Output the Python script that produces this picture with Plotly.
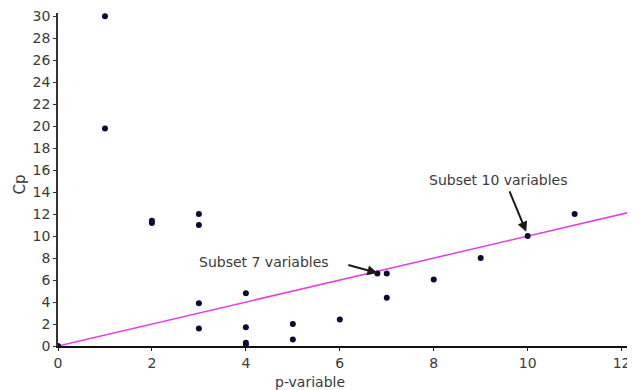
import plotly.graph_objects as go

p_values = [0, 1, 1, 2, 2, 3, 3, 3, 3, 4, 4, 4, 4, 5, 5, 6, 6.8, 7, 7, 8, 9, 10, 11]
cp_values = [0, 30, 19.8, 11.2, 11.4, 12.0, 11.0, 3.9, 1.6, 4.8, 1.7, 0.3, 0.1, 2.0, 0.6, 2.4, 6.6, 6.6, 4.4, 6.05, 8.0, 10.0, 12.0]
line_x = [0, 12.2]
line_y = [0, 12.2]
x_ticks = [0, 2, 4, 6, 8, 10, 12]
y_ticks = list(range(0, 31, 2))

font_main = "DejaVu Sans, Arial, sans-serif"
txt_color = "#3a3a3a"

fig = go.Figure()
fig.add_trace(go.Scatter(x=line_x, y=line_y, mode="lines",
                         line=dict(color="#e040e0", width=1.5), hoverinfo="skip"))
fig.add_trace(go.Scatter(x=p_values, y=cp_values, mode="markers",
                         marker=dict(color="#0a0a35", size=6)))

fig.add_annotation(x=6.8, y=6.65, ax=6.15, ay=7.4, xref="x", yref="y", axref="x", ayref="y",
                   text="", showarrow=True, arrowhead=2, arrowsize=1, arrowwidth=2,
                   arrowcolor="#1a1a1a")
fig.add_annotation(x=4.38, y=7.66, xref="x", yref="y", text="Subset 7 variables",
                   showarrow=False, font=dict(family=font_main, size=14, color=txt_color))
fig.add_annotation(x=9.97, y=10.4, ax=9.6, ay=14.2, xref="x", yref="y", axref="x", ayref="y",
                   text="", showarrow=True, arrowhead=2, arrowsize=1, arrowwidth=2,
                   arrowcolor="#1a1a1a")
fig.add_annotation(x=9.38, y=15.13, xref="x", yref="y", text="Subset 10 variables",
                   showarrow=False, font=dict(family=font_main, size=14, color=txt_color))

# axis titles
fig.add_annotation(x=0, y=0.485, xref="paper", yref="paper", xanchor="center", yanchor="middle",
                   xshift=-38, text="Cp", textangle=-90, showarrow=False,
                   font=dict(family=font_main, size=15, color=txt_color))
fig.add_annotation(x=0.44, y=0, xref="paper", yref="paper", xanchor="center", yanchor="middle",
                   yshift=-36, text="p-variable", showarrow=False,
                   font=dict(family=font_main, size=14, color=txt_color))

# the page body has an 8px default margin, so the figure is sized/offset to compensate
fig.update_layout(
    width=627, height=382,
    margin=dict(l=50, r=4, t=5, b=44),
    paper_bgcolor="white", plot_bgcolor="white",
    showlegend=False,
    font=dict(family=font_main, size=14, color=txt_color),
    xaxis=dict(range=[0, 12.2], tickvals=x_ticks, showgrid=False, zeroline=False,
               showline=True, linecolor="#111111", linewidth=2, automargin=False,
               ticks="outside", ticklen=3, tickcolor="#111111",
               tickfont=dict(size=14), ticklabeloverflow="allow"),
    yaxis=dict(range=[0, 30.3], tickvals=y_ticks, showgrid=False, zeroline=False,
               showline=True, linecolor="#333333", linewidth=1.5, automargin=False,
               ticks="outside", ticklen=3, tickcolor="#333333",
               tickfont=dict(size=14), ticklabeloverflow="allow"),
)

fig.write_html("out.html")
